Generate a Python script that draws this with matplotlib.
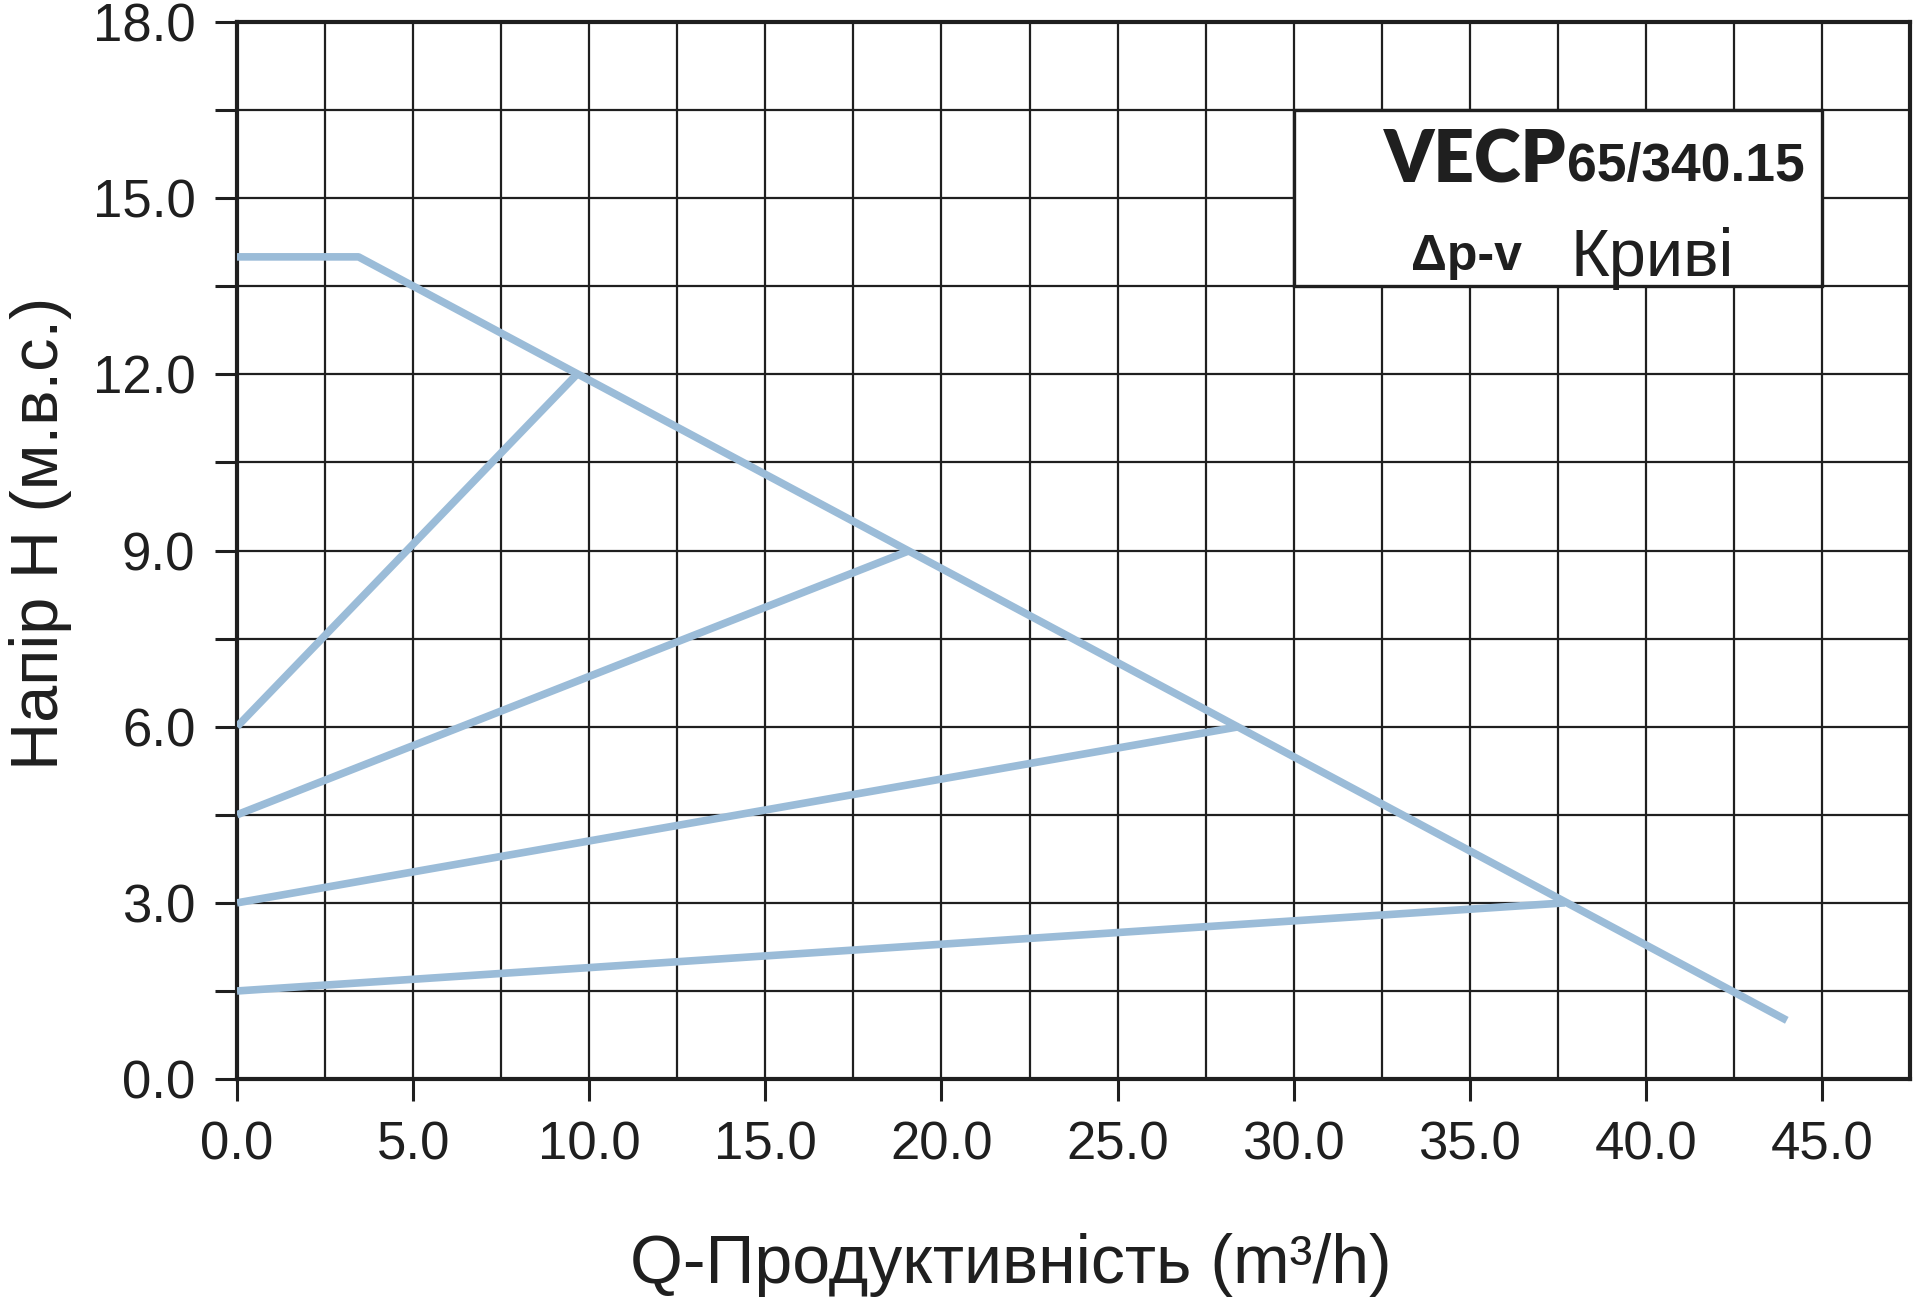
import matplotlib

matplotlib.use("Agg")
import matplotlib.pyplot as plt
from matplotlib.patches import Rectangle
from matplotlib.ticker import MultipleLocator, FormatStrFormatter

plt.rcParams["font.family"] = ["Liberation Sans", "DejaVu Sans"]

# max-speed curve
q_max = [0.0, 3.45, 44.0]
h_max = [14.0, 14.0, 1.0]

# Δp-v control curves: start head at Q=0, end point on the max curve
dpv_q0 = [0.0, 0.0, 0.0, 0.0]
dpv_h0 = [6.0, 4.5, 3.0, 1.5]
dpv_q1 = [9.65, 19.1, 28.45, 37.7]
dpv_h1 = [12.0, 9.0, 6.0, 3.0]

LINE_C = "#9bbcd8"
INK = "#1f1f1f"

fig = plt.figure(figsize=(19.22, 13.07), dpi=100)
ax = fig.add_axes([0.1233, 0.1744, 0.9938 - 0.1233, 0.9832 - 0.1744])

ax.set_xlim(0, 47.5)
ax.set_ylim(0, 18)

ax.xaxis.set_major_locator(MultipleLocator(5))
ax.xaxis.set_minor_locator(MultipleLocator(2.5))
ax.yaxis.set_major_locator(MultipleLocator(3))
ax.yaxis.set_minor_locator(MultipleLocator(1.5))
ax.xaxis.set_major_formatter(FormatStrFormatter("%.1f"))
ax.yaxis.set_major_formatter(FormatStrFormatter("%.1f"))

ax.grid(True, which="both", color=INK, lw=1.6, zorder=0)
ax.set_axisbelow(True)
for s in ax.spines.values():
    s.set_linewidth(3)
    s.set_color(INK)

ax.tick_params(axis="both", which="major", direction="out", length=16, width=2.2,
               color=INK, labelsize=38, labelcolor=INK, pad=14)
ax.tick_params(axis="x", which="minor", length=0)
ax.tick_params(axis="y", which="minor", direction="out", length=16, width=2.2, color=INK)

ax.plot(q_max, h_max, color=LINE_C, lw=5.5, solid_capstyle="butt", zorder=3)
for q0, h0, q1, h1 in zip(dpv_q0, dpv_h0, dpv_q1, dpv_h1):
    ax.plot([q0, q1], [h0, h1], color=LINE_C, lw=5.5, solid_capstyle="butt", zorder=3)

# axis titles
fig.text(0.526, 0.0184, "Q-Продуктивність (m³/h)", fontsize=49, color=INK,
         ha="center", va="baseline")
fig.text(0.0045, 0.592, "Напір H (м.в.с.)", fontsize=48, color=INK,
         rotation=90, ha="left", va="center")

# title box
ax.add_patch(Rectangle((30.0, 13.5), 15.0, 3.0, facecolor="white",
                       edgecolor=INK, lw=2.4, zorder=4))
ax.text(32.57, 15.26, "VECP", fontsize=51, fontweight="heavy",
        family=["Lato", "DejaVu Sans"], color=INK, zorder=5)
ax.text(37.75, 15.3, "65/340.15", fontsize=38.5, fontweight="bold",
        family=["Liberation Sans", "DejaVu Sans"], color=INK, zorder=5)
ax.text(33.34, 13.77, "Δp-v", fontsize=36, fontweight="bold", color=INK, zorder=5)
ax.text(37.85, 13.68, "Криві", fontsize=48, color=INK, zorder=5)

fig.savefig("out.png", dpi=100)
